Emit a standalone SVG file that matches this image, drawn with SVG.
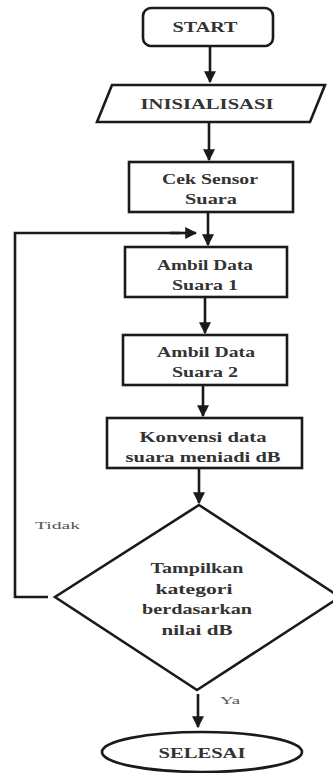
<svg xmlns="http://www.w3.org/2000/svg" width="333" height="773" viewBox="0 0 333 773">
  <defs>
    <marker id="head" viewBox="0 0 10 10" refX="9" refY="5" markerWidth="4.6" markerHeight="4.6" orient="auto" markerUnits="strokeWidth">
      <path d="M0,0 L10,5 L0,10 Z" fill="#1a1a1a"/>
    </marker>
    <style>
      .shape { fill: #ffffff; stroke: #1a1a1a; stroke-width: 2.6; }
      .edge { fill: none; stroke: #1a1a1a; stroke-width: 2.6; }
      .arrow { fill: none; stroke: #1a1a1a; stroke-width: 2.6; marker-end: url(#head); }
      .lbl { font-family: "Liberation Serif", "DejaVu Serif", serif; font-weight: bold; font-size: 15px; fill: #333333; text-anchor: middle; dominant-baseline: central; }
      .small { font-family: "Liberation Serif", "DejaVu Serif", serif; font-size: 11px; fill: #555; dominant-baseline: central; }
    </style>
  </defs>
  <rect width="333" height="773" fill="#ffffff"/>

  <g id="connectors">
    <line class="arrow" x1="210" y1="47" x2="210" y2="82"/>
    <line class="arrow" x1="209" y1="123" x2="209" y2="160"/>
    <line class="arrow" x1="208" y1="212" x2="208" y2="245"/>
    <line class="arrow" x1="205" y1="297" x2="205" y2="333"/>
    <line class="arrow" x1="203" y1="385" x2="203" y2="416"/>
    <line class="arrow" x1="199" y1="468" x2="199" y2="503"/>
    <polyline class="edge" points="48,597 15,597 15,233 180,233"/>
    <line class="arrow" x1="170" y1="233" x2="196" y2="233"/>
    <line class="arrow" x1="198" y1="694" x2="198" y2="727"/>
    <text class="small" x="35" y="525" textLength="45" lengthAdjust="spacingAndGlyphs">Tidak</text>
    <text class="small" x="220" y="700" textLength="20" lengthAdjust="spacingAndGlyphs">Ya</text>
  </g>

  <g id="start">
    <rect class="shape" x="143" y="8" width="130" height="38" rx="8"/>
    <text class="lbl" x="205" y="27" textLength="65" lengthAdjust="spacingAndGlyphs">START</text>
  </g>

  <g id="inisialisasi">
    <polygon class="shape" points="112,85 325,85 310,122 97,122"/>
    <text class="lbl" x="207" y="104" textLength="133" lengthAdjust="spacingAndGlyphs">INISIALISASI</text>
  </g>

  <g id="cek-sensor">
    <rect class="shape" x="129" y="162" width="164" height="50"/>
    <text class="lbl" x="210" y="179" textLength="96" lengthAdjust="spacingAndGlyphs">Cek Sensor</text>
    <text class="lbl" x="211" y="199" textLength="52" lengthAdjust="spacingAndGlyphs">Suara</text>
  </g>

  <g id="ambil-1">
    <rect class="shape" x="125" y="247" width="162" height="50"/>
    <text class="lbl" x="205" y="265" textLength="96" lengthAdjust="spacingAndGlyphs">Ambil Data</text>
    <text class="lbl" x="205" y="285" textLength="66" lengthAdjust="spacingAndGlyphs">Suara 1</text>
  </g>

  <g id="ambil-2">
    <rect class="shape" x="123" y="335" width="164" height="50"/>
    <text class="lbl" x="206" y="352" textLength="98" lengthAdjust="spacingAndGlyphs">Ambil Data</text>
    <text class="lbl" x="205" y="372" textLength="66" lengthAdjust="spacingAndGlyphs">Suara 2</text>
  </g>

  <g id="konversi">
    <rect class="shape" x="107" y="418" width="195" height="50"/>
    <text class="lbl" x="203" y="437" textLength="127" lengthAdjust="spacingAndGlyphs">Konvensi data</text>
    <text class="lbl" x="203" y="457" textLength="155" lengthAdjust="spacingAndGlyphs">suara meniadi dB</text>
  </g>

  <g id="tampilkan">
    <polygon class="shape" points="199,505 340,597 197,690 55,597"/>
    <text class="lbl" x="197" y="568" textLength="93" lengthAdjust="spacingAndGlyphs">Tampilkan</text>
    <text class="lbl" x="194" y="589" textLength="77" lengthAdjust="spacingAndGlyphs">kategori</text>
    <text class="lbl" x="197" y="609" textLength="110" lengthAdjust="spacingAndGlyphs">berdasarkan</text>
    <text class="lbl" x="197" y="630" textLength="71" lengthAdjust="spacingAndGlyphs">nilai dB</text>
  </g>

  <g id="selesai">
    <ellipse class="shape" cx="202" cy="752" rx="100" ry="20"/>
    <text class="lbl" x="202" y="753" textLength="87" lengthAdjust="spacingAndGlyphs">SELESAI</text>
  </g>
</svg>
